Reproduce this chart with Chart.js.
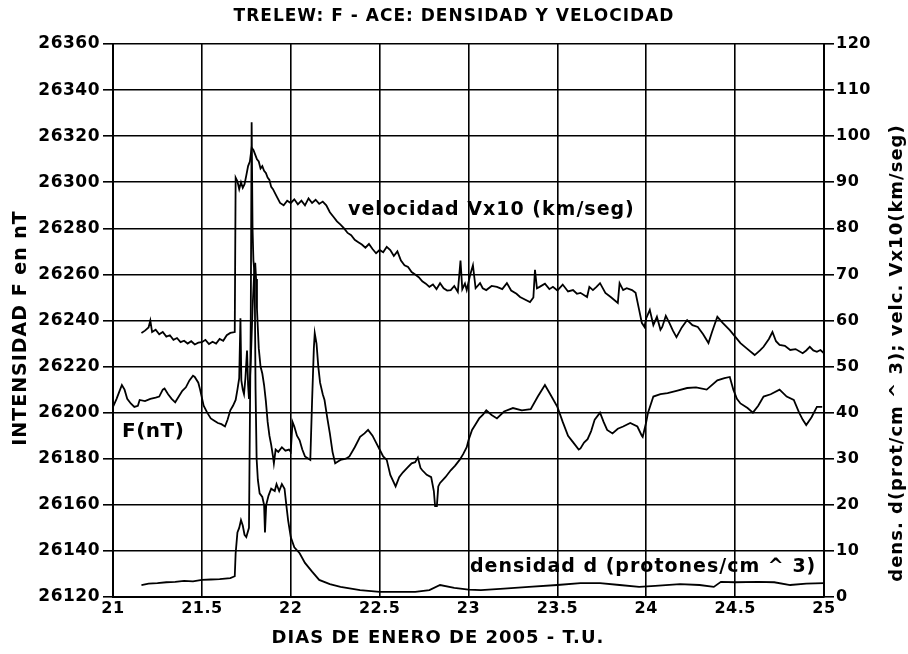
<!DOCTYPE html>
<html>
<head>
<meta charset="utf-8">
<script src="https://cdn.jsdelivr.net/npm/chart.js@4.4.1/dist/chart.umd.min.js"></script>
<style>
  html, body { margin: 0; padding: 0; background: #fff; }
  canvas { display: block; }
</style>
</head>
<body>
<canvas id="c" width="908" height="654"></canvas>
<script>
// tick settings
const xTicks = [21, 21.5, 22, 22.5, 23, 23.5, 24, 24.5, 25];
const fTicks = [26120, 26140, 26160, 26180, 26200, 26220, 26240, 26260, 26280, 26300, 26320, 26340, 26360];
const rightTicks = [0, 10, 20, 30, 40, 50, 60, 70, 80, 90, 100, 110, 120];

// F (nT), left axis
const fDays = [21.0,21.02,21.035,21.05,21.065,21.08,21.1,21.12,21.14,21.15,21.18,21.21,21.24,21.26,21.28,21.29,21.31,21.33,21.35,21.37,21.39,21.41,21.43,21.45,21.46,21.48,21.49,21.51,21.53,21.55,21.57,21.59,21.61,21.63,21.645,21.66,21.675,21.69,21.7,21.71,21.717,21.722,21.73,21.737,21.745,21.754,21.76,21.765,21.775,21.785,21.795,21.8,21.805,21.81,21.82,21.83,21.84,21.85,21.86,21.87,21.88,21.89,21.9,21.905,21.915,21.93,21.95,21.97,21.99,22.0,22.01,22.02,22.035,22.05,22.065,22.08,22.1,22.11,22.12,22.13,22.135,22.145,22.155,22.165,22.18,22.19,22.205,22.22,22.235,22.25,22.27,22.28,22.31,22.33,22.36,22.39,22.415,22.435,22.46,22.48,22.5,22.52,22.54,22.56,22.59,22.61,22.63,22.655,22.68,22.7,22.715,22.73,22.74,22.765,22.79,22.805,22.812,22.822,22.83,22.84,22.87,22.9,22.925,22.95,22.97,22.99,23.0,23.02,23.04,23.06,23.08,23.1,23.13,23.16,23.2,23.25,23.3,23.35,23.39,23.43,23.46,23.5,23.53,23.56,23.59,23.62,23.63,23.65,23.67,23.69,23.71,23.74,23.76,23.78,23.81,23.84,23.87,23.91,23.95,23.975,23.98,24.0,24.01,24.04,24.08,24.12,24.17,24.23,24.28,24.34,24.4,24.44,24.47,24.49,24.51,24.53,24.57,24.6,24.63,24.66,24.7,24.75,24.79,24.83,24.86,24.88,24.9,24.93,24.96,24.99];
const fValues = [26202.5,26206,26209,26212,26210,26206,26204,26202.5,26203,26205.5,26205,26206,26206.5,26207,26210,26210.5,26208,26206,26204.5,26207,26209.5,26211,26214,26216,26215.5,26213,26210,26203,26200,26197.5,26196.5,26195.5,26195,26194,26197,26201,26203,26205.5,26210,26215,26241,26214,26210,26208,26215,26227,26212,26206,26222,26245,26262,26265,26258,26245,26228,26220,26217,26212,26205,26196,26190,26186,26181,26178,26184,26183,26185,26183.5,26184,26183,26196,26194,26190,26188,26184,26181,26180,26179.5,26205,26228,26234.5,26230,26220,26213,26208,26205.5,26198,26191,26183,26178,26179,26179.5,26180,26181,26185,26189.5,26191,26192.5,26190,26187,26184,26181,26179.5,26173,26168,26172,26174,26176,26178,26178.5,26180.5,26176,26175,26173,26172,26166,26159.5,26159.5,26168,26169.5,26172,26175,26177,26179.5,26182,26185,26188,26192.5,26195,26197.5,26199,26201,26199,26197.5,26200.5,26202,26201,26201.5,26207,26212,26208,26202.5,26196,26190,26187,26184,26184.5,26187,26188.5,26192,26197,26200,26196,26192.5,26191,26193,26194,26195.5,26194,26190,26189.5,26196,26200,26207,26208,26208.5,26209.5,26210.7,26211,26210,26214,26215,26215.5,26210,26206,26204,26202,26200,26203,26207,26208,26210,26207,26205.5,26200,26197,26194.6,26198,26202.5,26202.5];

// velocity Vx10 (km/seg), right axis
const velDays = [21.16,21.18,21.2,21.21,21.22,21.24,21.26,21.28,21.3,21.32,21.34,21.36,21.38,21.4,21.42,21.44,21.46,21.48,21.5,21.52,21.54,21.56,21.58,21.6,21.62,21.64,21.66,21.685,21.69,21.7,21.71,21.72,21.73,21.74,21.75,21.76,21.77,21.78,21.79,21.8,21.81,21.82,21.83,21.84,21.85,21.86,21.87,21.88,21.89,21.9,21.92,21.94,21.96,21.98,22.0,22.02,22.04,22.06,22.08,22.1,22.12,22.14,22.16,22.18,22.2,22.22,22.24,22.26,22.28,22.3,22.32,22.34,22.36,22.38,22.4,22.42,22.44,22.46,22.48,22.5,22.52,22.54,22.56,22.58,22.6,22.62,22.64,22.66,22.68,22.7,22.72,22.74,22.76,22.78,22.8,22.82,22.84,22.86,22.88,22.9,22.92,22.94,22.955,22.965,22.98,22.99,23.01,23.025,23.04,23.065,23.08,23.1,23.13,23.16,23.19,23.216,23.24,23.27,23.29,23.32,23.346,23.365,23.374,23.385,23.4,23.43,23.455,23.475,23.5,23.53,23.56,23.588,23.61,23.63,23.667,23.68,23.7,23.72,23.74,23.77,23.8,23.84,23.85,23.87,23.89,23.92,23.94,23.96,23.975,23.99,24.0,24.02,24.04,24.06,24.08,24.09,24.11,24.13,24.15,24.17,24.2,24.23,24.26,24.29,24.32,24.35,24.37,24.4,24.43,24.47,24.5,24.53,24.57,24.61,24.64,24.66,24.69,24.71,24.73,24.75,24.78,24.81,24.84,24.88,24.9,24.92,24.94,24.96,24.98,25.0];
const velValues = [57.3,57.8,58.5,60,57.5,58,57,57.5,56.5,56.8,55.8,56.2,55.3,55.6,55,55.5,54.8,55.2,55.3,55.8,54.9,55.4,55,56,55.6,56.8,57.3,57.5,91,90.2,88.5,90,88.8,89.6,91.5,93.5,94.5,97.5,97,96,95,94.5,93,93.5,92.5,92,91,90.5,89,88.5,87,85.5,85,86,85.5,86.3,85.2,86,85,86.5,85.5,86.2,85.3,85.8,85,83.5,82.5,81.5,80.8,80,79,78.5,77.5,77,76.5,75.8,76.6,75.5,74.6,75.3,74.8,76,75.3,74,75,73,72,71.6,70.5,70,69.4,68.5,68,67.3,67.8,66.8,68.1,67,66.5,66.6,67.5,66.2,73,66.8,68,66.6,70,72,67,68.1,67,66.6,67.5,67.3,66.8,68.1,66.5,65.8,65.1,64.5,64,65,71,67,67.3,68,66.8,67.3,66.5,67.8,66.3,66.6,65.8,66,65.1,67.3,66.6,67.3,68.1,66,65.1,63.8,68.1,66.6,67,66.6,66,62.3,59.5,58.6,60.5,62.3,59,60.8,58,58.6,61,59.5,57.8,56.4,58.5,60.1,59,58.6,57,55.1,57.5,60.8,59.5,57.9,56.5,55.1,53.8,52.5,53.5,54.3,56,57.5,55.5,54.7,54.5,53.6,53.8,52.9,53.5,54.3,53.5,53.2,53.6,52.9];

// densidad d (protones/cm^3), right axis
const densDays = [21.16,21.2,21.25,21.3,21.35,21.4,21.45,21.5,21.55,21.6,21.66,21.685,21.69,21.7,21.71,21.72,21.73,21.74,21.75,21.765,21.775,21.78,21.785,21.79,21.797,21.802,21.808,21.815,21.825,21.84,21.85,21.855,21.862,21.875,21.89,21.91,21.92,21.935,21.95,21.965,21.975,21.985,22.0,22.02,22.05,22.08,22.12,22.16,22.22,22.28,22.39,22.5,22.6,22.7,22.78,22.84,22.92,23.0,23.07,23.2,23.34,23.5,23.63,23.74,23.85,23.96,24.05,24.19,24.3,24.38,24.42,24.5,24.63,24.72,24.81,24.9,25.0];
const densValues = [2.6,2.9,3.0,3.2,3.3,3.5,3.4,3.7,3.8,3.9,4.1,4.5,9.5,14,15,16.7,15.5,13.5,13,15,60,103,80,73,70,45,30,25.4,22.5,21.7,20,14,20,22,23.5,23,24.5,23,24.5,23.5,20,16.7,13,10.8,9.5,7.4,5.5,3.7,2.8,2.2,1.5,1.1,1.1,1.1,1.5,2.6,2.0,1.6,1.5,1.8,2.2,2.6,3.0,3.0,2.6,2.2,2.4,2.8,2.6,2.2,3.3,3.2,3.3,3.2,2.6,2.9,3.0];

const pts = (xs, ys) => xs.map((x, i) => ({ x: x, y: ys[i] }));

const FONT = 'DejaVu Sans';

const textPlugin = {
  id: 'texts',
  beforeDraw(chart) {
    chart.ctx.letterSpacing = '0.5px';
  },
  afterDraw(chart) {
    const ctx = chart.ctx;
    ctx.save();
    ctx.fillStyle = '#000';
    ctx.textBaseline = 'alphabetic';

    ctx.letterSpacing = '1px';
    ctx.font = 'bold 17px ' + FONT;
    ctx.textAlign = 'center';
    ctx.fillText('TRELEW: F - ACE: DENSIDAD Y VELOCIDAD', 454, 21);

    ctx.font = 'bold 18px ' + FONT;
    ctx.fillText('DIAS DE ENERO DE 2005 - T.U.', 438, 643);

    ctx.save();
    ctx.translate(26, 328);
    ctx.rotate(-Math.PI / 2);
    ctx.font = 'bold 19px ' + FONT;
    ctx.fillText('INTENSIDAD F en nT', 0, 0);
    ctx.restore();

    ctx.save();
    ctx.translate(902, 353);
    ctx.rotate(-Math.PI / 2);
    ctx.font = 'bold 18px ' + FONT;
    ctx.fillText('dens. d(prot/cm ^ 3); velc. Vx10(km/seg)', 0, 0);
    ctx.restore();

    ctx.letterSpacing = '1px';
    ctx.textAlign = 'left';
    ctx.font = 'bold 19px ' + FONT;
    ctx.fillText('velocidad Vx10 (km/seg)', 348, 215);
    ctx.fillText('densidad d (protones/cm ^ 3)', 470, 572);
    ctx.letterSpacing = '0.5px';
    ctx.font = 'bold 20px ' + FONT;
    ctx.fillText('F(nT)', 122, 437);

    ctx.restore();
    ctx.letterSpacing = '0px';
  }
};

const lineStyle = {
  borderColor: '#000',
  backgroundColor: '#000',
  borderWidth: 1.8,
  pointRadius: 0,
  tension: 0,
  fill: false
};

const tickFont = { family: FONT, size: 16, weight: 'bold' };

new Chart(document.getElementById('c').getContext('2d'), {
  type: 'line',
  data: {
    datasets: [
      Object.assign({ label: 'F(nT)', data: pts(fDays, fValues), yAxisID: 'yF' }, lineStyle),
      Object.assign({ label: 'velocidad Vx10 (km/seg)', data: pts(velDays, velValues), yAxisID: 'yR' }, lineStyle),
      Object.assign({ label: 'densidad d (protones/cm ^ 3)', data: pts(densDays, densValues), yAxisID: 'yR' }, lineStyle)
    ]
  },
  options: {
    responsive: false,
    devicePixelRatio: 1,
    animation: false,
    layout: { padding: { top: 44, left: 0, right: 0, bottom: 0 } },
    plugins: {
      legend: { display: false },
      tooltip: { enabled: false }
    },
    scales: {
      x: {
        type: 'linear',
        min: 21,
        max: 25,
        afterBuildTicks: s => { s.ticks = xTicks.map(v => ({ value: v })); },
        afterFit: s => { s.height = 57; },
        ticks: { color: '#000', font: tickFont, padding: 2, maxRotation: 0, autoSkip: false,
                 callback: v => String(v) },
        grid: { color: '#000', lineWidth: 1.6, drawTicks: false },
        border: { color: '#000', width: 2 }
      },
      yF: {
        type: 'linear',
        position: 'left',
        min: 26120,
        max: 26360,
        afterBuildTicks: s => { s.ticks = fTicks.map(v => ({ value: v })); },
        afterFit: s => { s.width = 113; },
        ticks: { color: '#000', font: { family: FONT, size: 17, weight: 'bold' }, padding: 3,
                 callback: v => String(v) },
        grid: { color: '#000', lineWidth: 1.6, tickLength: 10 },
        border: { color: '#000', width: 2 }
      },
      yR: {
        type: 'linear',
        position: 'right',
        min: 0,
        max: 120,
        afterBuildTicks: s => { s.ticks = rightTicks.map(v => ({ value: v })); },
        afterFit: s => { s.width = 84; },
        ticks: { color: '#000', font: tickFont, padding: 2, callback: v => String(v) },
        grid: { color: '#000', lineWidth: 1.6, tickLength: 10, drawOnChartArea: false },
        border: { color: '#000', width: 2 }
      }
    }
  },
  plugins: [textPlugin]
});
</script>
</body>
</html>
